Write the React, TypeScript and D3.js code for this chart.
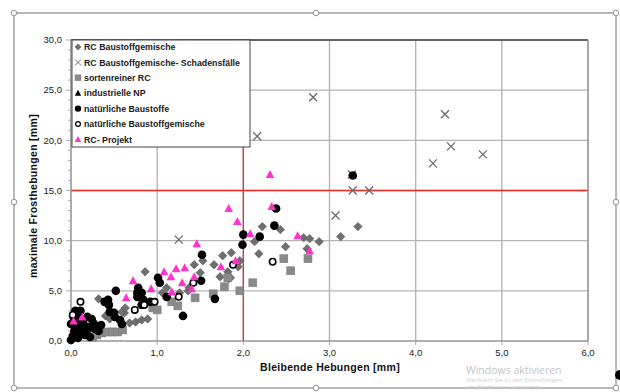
import React from "react";
import * as d3 from "d3";

const xTicks = [0, 1, 2, 3, 4, 5, 6];
const yTicks = [0, 5, 10, 15, 20, 25, 30];
const yMinor = d3.range(0, 31, 1);
const fmt = (v: number) => v.toFixed(1).replace(".", ",");

const xLimit = 2.0;
const yLimit = 15.0;

const legendLabels = [
  "RC Baustoffgemische",
  "RC Baustoffgemische- Schadensfälle",
  "sortenreiner RC",
  "industrielle NP",
  "natürliche Baustoffe",
  "natürliche Baustoffgemische",
  "RC- Projekt",
];

const rcMix: [number, number][] = [
  [0.1, 0.5], [0.2, 1.0], [0.4, 2.5], [0.45, 2.2], [0.32, 4.2], [0.62, 2.8], [0.59, 2.9],
  [0.63, 3.3], [0.68, 1.8], [0.75, 1.9], [0.82, 2.1], [0.89, 2.2], [0.86, 6.9], [1.06, 4.8],
  [1.11, 5.3], [1.26, 4.8], [1.36, 5.0], [1.37, 5.3], [1.43, 7.6], [1.5, 6.8], [1.53, 8.0],
  [1.66, 7.6], [1.73, 6.4], [1.76, 8.5], [1.82, 6.9], [1.83, 6.2], [1.86, 8.8], [1.94, 7.4],
  [1.96, 8.0], [1.85, 6.3], [2.13, 9.9], [2.18, 8.7], [2.22, 11.4], [2.43, 11.1], [2.49, 9.4],
  [2.7, 10.3], [2.74, 9.2], [2.77, 10.2], [2.88, 9.9], [3.13, 10.4], [3.33, 11.4],
];

const rcDamage: [number, number][] = [
  [1.25, 10.1], [2.16, 20.4], [2.81, 24.3], [3.07, 12.5], [3.26, 16.6], [3.27, 15.0],
  [3.46, 15.0], [4.2, 17.7], [4.34, 22.6], [4.41, 19.4], [4.78, 18.6],
];

const pureRc: [number, number][] = [
  [0.25, 0.4], [0.3, 0.6], [0.36, 0.8], [0.42, 0.9], [0.48, 0.9], [0.54, 0.9], [0.6, 1.1],
  [0.95, 3.3], [1.0, 3.1], [1.17, 3.9], [1.24, 3.5], [1.44, 4.3], [1.65, 4.7], [1.78, 5.4],
  [1.96, 5.0], [1.82, 6.3], [2.11, 5.8], [2.47, 8.2], [2.75, 8.2], [2.55, 7.0],
];

const industrialNp: [number, number][] = [];

const naturalMat: [number, number][] = [
  [0.0, 0.1], [0.02, 0.5], [0.04, 1.0], [0.06, 1.4], [0.08, 0.3], [0.1, 0.8], [0.12, 1.2],
  [0.14, 1.8], [0.16, 0.6], [0.18, 1.0], [0.2, 1.4], [0.22, 0.4], [0.05, 2.0], [0.09, 2.5],
  [0.13, 2.1], [0.19, 2.4], [0.26, 1.8], [0.28, 1.2], [0.32, 1.0], [0.35, 1.6], [0.05, 3.0],
  [0.11, 3.0], [0.0, 1.7], [0.03, 2.4], [0.24, 2.2], [0.3, 1.5], [0.39, 3.9], [0.44, 3.6],
  [0.43, 4.1], [0.45, 2.9], [0.5, 2.8], [0.51, 2.4], [0.52, 5.0], [0.57, 2.1], [0.59, 1.7],
  [0.77, 4.4], [0.82, 4.8], [0.84, 4.1], [0.82, 3.6], [0.77, 4.8], [0.78, 5.3], [0.92, 3.9],
  [1.01, 6.3], [1.03, 5.8], [1.11, 4.4], [1.3, 2.5], [1.51, 6.0], [1.52, 8.6], [1.67, 4.2],
  [1.99, 9.6], [2.0, 10.6], [2.19, 10.4], [2.36, 11.5], [2.38, 13.2], [3.27, 16.5],
];

const naturalMix: [number, number][] = [
  [0.02, 2.6], [0.11, 3.9], [0.74, 3.1], [0.85, 3.6], [0.97, 3.9], [1.25, 4.4], [1.42, 5.8],
  [1.88, 7.6], [2.34, 7.9],
];

const rcProject: [number, number][] = [
  [0.03, 2.0], [0.13, 2.4], [0.64, 4.3], [0.72, 6.0], [0.93, 5.2], [1.08, 6.9], [1.16, 6.4],
  [1.17, 4.9], [1.22, 7.2], [1.29, 5.8], [1.32, 7.3], [1.4, 5.2], [1.43, 6.4], [1.46, 9.7],
  [1.74, 7.4], [1.83, 13.2], [1.91, 8.0], [1.93, 11.9], [2.08, 10.7], [2.31, 16.6],
  [2.33, 13.4], [2.63, 10.5], [2.77, 9.0],
];

const watermarkLines = [
  "Wechseln Sie zu den Einstellungen,",
  "um Windows zu aktivieren.",
];

const L = 71, R = 588, T = 40, B = 341;
const x = d3.scaleLinear().domain([0, 6]).range([L, R]);
const y = d3.scaleLinear().domain([0, 30]).range([B, T]);

const FONT = "'Liberation Sans', Arial, sans-serif";

function Marker({ kind, cx, cy }: { kind: number; cx: number; cy: number }) {
  switch (kind) {
    case 0:
      return <path d={`M${cx},${cy - 4.2}L${cx + 4.2},${cy}L${cx},${cy + 4.2}L${cx - 4.2},${cy}Z`} fill="#6f6f6f" stroke="#555" strokeWidth={0.6} />;
    case 1:
      return <path d={`M${cx - 4},${cy - 4}L${cx + 4},${cy + 4}M${cx - 4},${cy + 4}L${cx + 4},${cy - 4}`} stroke="#6a6a6a" strokeWidth={1.3} fill="none" />;
    case 2:
      return <rect x={cx - 4} y={cy - 4} width={8} height={8} fill="#8a8a8a" stroke="#7a7a7a" strokeWidth={0.5} />;
    case 3:
      return <path d={`M${cx},${cy - 4.5}L${cx + 4.3},${cy + 3.5}L${cx - 4.3},${cy + 3.5}Z`} fill="#000" />;
    case 4:
      return <circle cx={cx} cy={cy} r={4.3} fill="#000" />;
    case 5:
      return <circle cx={cx} cy={cy} r={3.2} fill="#fff" stroke="#000" strokeWidth={1.6} />;
    default:
      return <path d={`M${cx},${cy - 4.5}L${cx + 4.3},${cy + 3.5}L${cx - 4.3},${cy + 3.5}Z`} fill="#ff33cc" />;
  }
}

const series = [rcMix, rcDamage, pureRc, industrialNp, naturalMat, naturalMix, rcProject];

export default function App() {
  const handles = [
    [14, 13], [316, 13], [616, 13], [14, 202], [616, 202], [14, 388], [316, 388], [616, 388],
  ];
  return (
    <svg width={620} height={392} style={{ position: "absolute", left: 0, top: 0, background: "#fff" }} fontFamily={FONT}>
      <rect x={0} y={0} width={620} height={392} fill="#fff" />
      {/* outer selection frame */}
      <rect x={14} y={13} width={602} height={375} fill="none" stroke="#8a8a8a" strokeWidth={1.2} />
      {handles.map(([hx, hy], i) => (
        <circle key={i} cx={hx} cy={hy} r={2.8} fill="#fff" stroke="#8a8a8a" strokeWidth={0.9} />
      ))}
      {/* gridlines */}
      {xTicks.map((t) => (
        <line key={"gx" + t} x1={x(t)} x2={x(t)} y1={T} y2={B} stroke="#b5b5b5" strokeWidth={1.4} />
      ))}
      {yTicks.map((t) => (
        <line key={"gy" + t} x1={L} x2={R} y1={y(t)} y2={y(t)} stroke="#b5b5b5" strokeWidth={1.4} />
      ))}
      {/* limit lines */}
      <line x1={x(xLimit)} x2={x(xLimit)} y1={T} y2={B} stroke="#e8302a" strokeWidth={1.3} />
      <line x1={L} x2={R} y1={y(yLimit)} y2={y(yLimit)} stroke="#e8302a" strokeWidth={1.3} />
      {/* frame */}
      <line x1={L} x2={R} y1={T} y2={T} stroke="#444" strokeWidth={1.4} />
      <line x1={R} x2={R} y1={T} y2={B} stroke="#999" strokeWidth={1.4} />
      <line x1={L} x2={L} y1={T} y2={B} stroke="#999" strokeWidth={1.2} />
      <line x1={L} x2={R} y1={B} y2={B} stroke="#999" strokeWidth={1.2} />
      {/* y ticks */}
      {yMinor.map((t) => (
        <line key={"ym" + t} x1={L - (t % 5 === 0 ? 5 : 3)} x2={L} y1={y(t)} y2={y(t)} stroke="#999" strokeWidth={0.8} />
      ))}
      {yTicks.map((t) => (
        <text key={"yl" + t} x={L - 9} y={y(t) + 3.3} textAnchor="end" fontSize={9.5} fill="#222">
          {fmt(t)}
        </text>
      ))}
      {xTicks.map((t) => (
        <g key={"xl" + t}>
          <line x1={x(t)} x2={x(t)} y1={B} y2={B + 4} stroke="#999" strokeWidth={0.8} />
          <text x={x(t)} y={B + 15} textAnchor="middle" fontSize={9.5} fill="#222">
            {fmt(t)}
          </text>
        </g>
      ))}
      {/* axis titles */}
      <text x={330} y={371} textAnchor="middle" fontSize={10.5} fontWeight="bold" letterSpacing={0.3} fill="#111">
        Bleibende Hebungen [mm]
      </text>
      <text transform={`translate(37,196) rotate(-90)`} textAnchor="middle" fontSize={10.5} fontWeight="bold" letterSpacing={0.3} fill="#111">
        maximale Frosthebungen [mm]
      </text>
      {/* data */}
      {series.map((s, k) => (
        <g key={"s" + k}>
          {s.map((d, i) => (
            <Marker key={i} kind={k} cx={x(d[0])} cy={y(d[1])} />
          ))}
        </g>
      ))}
      {/* legend */}
      <rect x={72} y={T} width={178} height={107} fill="#fff" stroke="#444" strokeWidth={1} />
      {legendLabels.map((lab, i) => {
        const ly = 47 + i * 15.4;
        return (
          <g key={"lg" + i}>
            <g transform={`translate(${78},${ly}) scale(0.75) translate(${-78},${-ly})`}>
              <Marker kind={i} cx={78} cy={ly} />
            </g>
            <text x={84} y={ly + 3.2} fontSize={8.8} fontWeight="bold" fill="#1a1a1a">
              {lab}
            </text>
          </g>
        );
      })}
      {/* watermark */}
      <text x={466} y={374} fontSize={10.5} fill="#c4c4c4" fontFamily="'Open Sans', sans-serif">
        Windows aktivieren
      </text>
      {watermarkLines.map((t, i) => (
        <text key={"wm" + i} x={466} y={382 + i * 7} fontSize={6} fill="#d0d0d0" fontFamily="'Open Sans', sans-serif">
          {t}
        </text>
      ))}
      <circle cx={620} cy={375} r={5} fill="#000" />
    </svg>
  );
}
